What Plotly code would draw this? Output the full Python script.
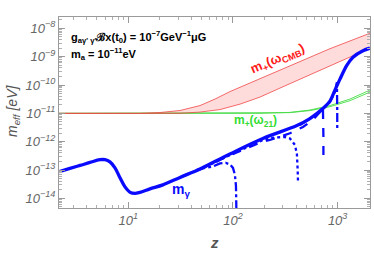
import plotly.graph_objects as go

# ---- data (z, m_eff in eV) ----
solid_z = [2.18, 2.77, 3.46, 4.31, 5.37, 5.99, 6.68, 7.46, 8.33, 9.30, 10.4, 11.6, 12.9, 16.1, 21.4,
           31.2, 48.4, 93.6, 193, 408, 543, 723, 844, 942, 1052, 1227, 1400, 1745, 2033]
solid_m = [8.8e-14, 1.14e-13, 1.45e-13, 1.85e-13, 2.31e-13, 2.31e-13, 1.93e-13, 1.19e-13, 5.3e-14,
           2.54e-14, 1.63e-14, 1.50e-14, 1.63e-14, 2.16e-14, 2.99e-14, 5.49e-14, 1.09e-13, 3.69e-13,
           1.30e-12, 3.72e-12, 6.56e-12, 1.48e-11, 2.71e-11, 6.6e-11, 1.61e-10, 5.02e-10, 9.59e-10,
           1.63e-9, 1.99e-9]

a_z = [31.2, 48.4, 64.4, 75.1, 85.7, 93.6, 100, 104.4, 106.8, 108, 108.5]
a_m = [5.49e-14, 1.09e-13, 1.34e-13, 1.71e-13, 1.78e-13, 1.57e-13, 1.19e-13, 6.72e-14, 2.75e-14, 8.9e-15, 1e-15]

b_z = [48.4, 93.6, 193, 252, 314, 350, 391, 408, 415, 418]
b_m = [1.05e-13, 3.40e-13, 1.15e-12, 1.41e-12, 1.46e-12, 1.30e-12, 7.66e-13, 3.69e-13, 1.01e-13, 3.81e-14]

c_z = [48.4, 93.6, 193, 225, 350, 466, 580, 677, 723, 731, 731, 731]
c_m = [1.05e-13, 3.35e-13, 1.02e-12, 1.15e-12, 1.98e-12, 3.30e-12, 5.81e-12, 1.11e-11, 1.73e-11, 6.0e-12,
       1.5e-12, 1.78e-13]

d_z = [436, 677, 844, 942, 984, 991, 991, 991]
d_m = [3.87e-12, 1.11e-11, 2.50e-11, 5.62e-11, 1.26e-10, 4.41e-11, 1.31e-11, 2.58e-12]

cmb_up_z = [2.18, 12.9, 20.1, 31.2, 48.4, 67.3, 93.6, 145, 225, 436, 844, 2033]
cmb_up_m = [1e-11, 1e-11, 1.07e-11, 1.26e-11, 1.88e-11, 3.19e-11, 5.86e-11, 1.17e-10, 2.32e-10,
            6.67e-10, 1.91e-9, 6.71e-9]
cmb_lo_z = [2.18, 31.2, 48.4, 75.1, 117, 181, 281, 436, 844, 2033]
cmb_lo_m = [1e-11, 1e-11, 1.11e-11, 1.36e-11, 2.12e-11, 3.75e-11, 7.78e-11, 1.61e-10, 4.62e-10, 1.99e-9]

h21_z = [2.18, 181, 350, 543, 844, 1310, 2033]
h21_up_m = [1e-11, 1e-11, 1.08e-11, 1.31e-11, 1.88e-11, 3.19e-11, 6.61e-11]
h21_lo_m = [1e-11, 1e-11, 1.06e-11, 1.25e-11, 1.72e-11, 2.8e-11, 5.62e-11]

x_tickvals = [10, 100, 1000]
x_ticktext = ["10<sup>1</sup>", "10<sup>2</sup>", "10<sup>3</sup>"]
y_tickvals = [1e-14, 1e-13, 1e-12, 1e-11, 1e-10, 1e-9, 1e-8]
y_ticktext = ["10<sup>−14</sup>", "10<sup>−13</sup>", "10<sup>−12</sup>", "10<sup>−11</sup>",
              "10<sup>−10</sup>", "10<sup>−9</sup>", "10<sup>−8</sup>"]

x_range = [0.338, 3.309]
y_range = [-14.34, -7.6]

BLUE = "#0a0aff"
fig = go.Figure()

# green 21cm lines
for mm in (h21_up_m, h21_lo_m):
    fig.add_trace(go.Scatter(x=h21_z, y=mm, mode="lines",
                             line=dict(color="rgba(70,220,70,0.9)", width=1), hoverinfo="skip"))

# red CMB band
fig.add_trace(go.Scatter(x=cmb_lo_z, y=cmb_lo_m, mode="lines",
                         line=dict(color="rgba(240,70,70,0.8)", width=1), hoverinfo="skip"))
fig.add_trace(go.Scatter(x=cmb_up_z, y=cmb_up_m, mode="lines", fill="tonexty",
                         fillcolor="rgba(255,80,80,0.2)",
                         line=dict(color="rgba(240,70,70,0.8)", width=1), hoverinfo="skip"))

# broken blue curves
fig.add_trace(go.Scatter(x=a_z, y=a_m, mode="lines", line=dict(color=BLUE, width=2.3, dash="dashdot")))
fig.add_trace(go.Scatter(x=b_z, y=b_m, mode="lines", line=dict(color=BLUE, width=2.3, dash="dot")))
fig.add_trace(go.Scatter(x=c_z, y=c_m, mode="lines", line=dict(color=BLUE, width=2.3, dash="dash")))
fig.add_trace(go.Scatter(x=d_z, y=d_m, mode="lines", line=dict(color=BLUE, width=2.3, dash="dashdot")))

# solid m_gamma
fig.add_trace(go.Scatter(x=solid_z, y=solid_m, mode="lines", line=dict(color=BLUE, width=3.3),
                         line_shape="spline"))

axis_common = dict(
    type="log", showgrid=False, zeroline=False, showline=True, linecolor="#9a9a9a", linewidth=1,
    mirror="allticks", ticks="inside", ticklen=6, tickcolor="#9a9a9a", tickmode="array",
    automargin=False,
    tickfont=dict(family="Liberation Sans", size=13, color="#666666", style="italic"),
    minor=dict(ticks="inside", ticklen=3, tickcolor="#b0b0b0", showgrid=False, dtick="D1"),
)

fig.update_layout(
    template="none",
    width=374, height=254, margin=dict(l=59, r=4, t=17, b=46),
    paper_bgcolor="white", plot_bgcolor="white", showlegend=False,
    xaxis=dict(range=x_range, tickvals=x_tickvals, ticktext=x_ticktext, **axis_common),
    yaxis=dict(range=y_range, tickvals=y_tickvals, ticktext=y_ticktext, **axis_common),
    font=dict(family="Liberation Sans"),
)


def px_ann(x, y, text, font, textangle=0, xanchor="center"):
    fig.add_annotation(xref="paper", yref="paper", x=(x - 59) / 311, y=(208 - y) / 191,
                       xanchor=xanchor, yanchor="middle", showarrow=False, textangle=textangle,
                       font=font, text=text)


ann_font = dict(family="Liberation Sans", size=11, color="black", weight="bold")
px_ann(69, 37, "g<sub>aγ' γ'</sub>ℬx(t<sub>0</sub>) = 10<sup>−7</sup>GeV<sup>−1</sup>μG", ann_font,
       xanchor="left")
px_ann(69, 54, "m<sub>a</sub> = 10<sup>−11</sup>eV", ann_font, xanchor="left")
px_ann(277, 59, "m<sub>+</sub>(ω<sub>CMB</sub>)",
       dict(family="Liberation Sans", size=13, color="#ff1a1a", weight="bold"), textangle=-23)
px_ann(255, 121, "m<sub>+</sub>(ω<sub>21</sub>)",
       dict(family="Liberation Sans", size=12, color="#33dd33", weight="bold"))
px_ann(181, 190, "m<sub>γ</sub>", dict(family="Liberation Sans", size=14, color=BLUE, weight="bold"))
# axis titles
px_ann(214, 242, "z", dict(family="Liberation Sans", size=15, color="#555555", weight="bold", style="italic"))
px_ann(13, 111, "m<sub>eff</sub> [eV]",
       dict(family="Liberation Sans", size=14, color="#555555", style="italic"), textangle=-90)

fig.write_html("out.html", post_script="document.body.style.margin='0px';",
               config={"displayModeBar": False})
